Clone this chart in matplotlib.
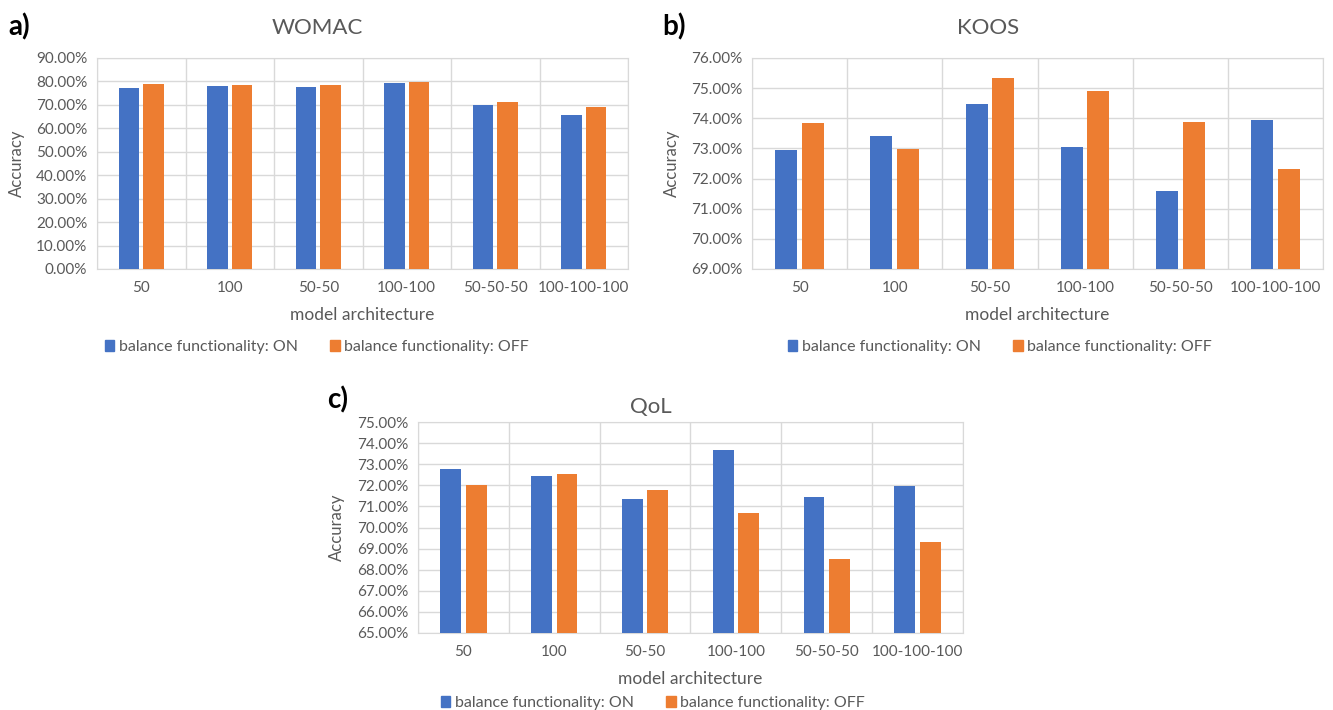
import numpy as np
import matplotlib.pyplot as plt
from matplotlib.ticker import FuncFormatter, MultipleLocator
from matplotlib.patches import Patch

plt.rcParams['font.family'] = ['Lato', 'DejaVu Sans']

# model architectures
archs = ["50", "100", "50-50", "100-100", "50-50-50", "100-100-100"]

# accuracy (%) with balance functionality ON / OFF
womac_on = [77.2, 77.9, 77.6, 79.3, 70.0, 65.8]
womac_off = [78.9, 78.6, 78.3, 79.8, 71.1, 69.0]
koos_on = [72.95, 73.40, 74.48, 73.04, 71.58, 73.95]
koos_off = [73.83, 72.97, 75.35, 74.90, 73.89, 72.33]
qol_on = [72.78, 72.42, 71.33, 73.69, 71.43, 71.99]
qol_off = [72.02, 72.53, 71.76, 70.70, 68.51, 69.31]

BLUE = "#4472C4"
ORANGE = "#ED7D31"
GREY = "#595959"
GRID = "#D9D9D9"

W, H = 1333, 710
fig = plt.figure(figsize=(W / 100, H / 100), dpi=100)


def fx(px):
    return px / W


def fy(py):
    return 1 - py / H


def panel(box, on, off, title, ymin, ymax, step, tag, pos):
    left, top, right, bottom = box
    ax = fig.add_axes([fx(left), fy(bottom), (right - left) / W, (bottom - top) / H])
    x = np.arange(len(archs))
    ax.bar(x - 0.14, on, width=0.23, color=BLUE, zorder=3)
    ax.bar(x + 0.14, off, width=0.23, color=ORANGE, zorder=3)
    ax.set_xlim(-0.5, len(archs) - 0.5)
    ax.set_ylim(ymin, ymax)
    ax.yaxis.set_major_locator(MultipleLocator(step))
    ax.yaxis.set_major_formatter(FuncFormatter(lambda v, p: f"{v:.2f}%"))
    ax.set_xticks(x)
    ax.set_xticklabels(archs)
    ax.set_xticks(np.arange(len(archs) + 1) - 0.5, minor=True)
    ax.grid(axis="y", which="major", color=GRID, lw=1, zorder=0)
    ax.grid(axis="x", which="minor", color=GRID, lw=1, zorder=0)
    ax.tick_params(which="both", length=0, labelsize=11, colors=GREY)
    ax.tick_params(axis="y", pad=7)
    ax.tick_params(axis="x", pad=9)
    for s in ax.spines.values():
        s.set_color(GRID)

    # texts placed like the Excel chart areas
    fig.text(fx(pos["title"][0]), fy(pos["title"][1]), title, fontsize=16,
             color=GREY, ha="center", va="center")
    fig.text(fx((left + right) / 2), fy(bottom + 46), "model architecture",
             fontsize=12.5, color=GREY, ha="center", va="center")
    fig.text(fx(pos["ylab"]), fy((top + bottom) / 2), "Accuracy", fontsize=12,
             color=GREY, ha="center", va="center", rotation=90)
    fig.text(fx(pos["tag"][0]), fy(pos["tag"][1]), tag, fontsize=20,
             fontweight="bold", ha="left", va="center")

    handles = [Patch(color=BLUE, label="balance functionality: ON"),
               Patch(color=ORANGE, label="balance functionality: OFF")]
    fig.legend(handles=handles, loc="center", ncol=2, frameon=False, fontsize=11.5,
               handlelength=0.6, handleheight=0.65, handletextpad=0.3,
               columnspacing=2.0, labelcolor=GREY,
               bbox_to_anchor=(fx(pos["leg"][0]), fy(pos["leg"][1])))
    return ax


panel((97, 58, 628, 269), womac_on, womac_off, "WOMAC", 0, 90, 10, "a)",
      {"title": (317, 28), "ylab": 17, "tag": (8, 27), "leg": (317, 347)})
panel((752, 58, 1323, 269), koos_on, koos_off, "KOOS", 69, 76, 1, "b)",
      {"title": (988, 28), "ylab": 672, "tag": (662, 27), "leg": (1000, 347)})
panel((418, 422, 963, 633), qol_on, qol_off, "QoL", 65, 75, 1, "c)",
      {"title": (651, 407), "ylab": 337, "tag": (327, 400), "leg": (653, 703)})

fig.savefig("out.png", dpi=100)
